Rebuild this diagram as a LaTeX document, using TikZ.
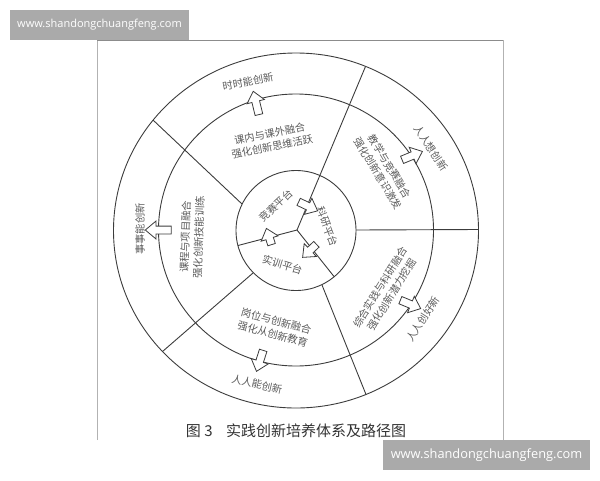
\documentclass[tikz,border=0pt]{standalone}
\usepackage{fontspec}
\setmainfont{Noto Sans CJK SC}
\newfontfamily\wmfont{Open Sans}
\usetikzlibrary{shapes.arrows}
\definecolor{linegray}{HTML}{3C3C3C}
\definecolor{textgray}{HTML}{5A5A5A}
\definecolor{markgray}{HTML}{AAAAAA}

\begin{document}
\begin{tikzpicture}[x=1pt, y=-1pt,
    ring/.style={draw=linegray, line width=0.9pt},
    lab/.style={text=textgray, inner sep=0pt, align=center, font=\fontsize{10.3}{13.5}\selectfont},
    flow/.style={single arrow, draw=linegray, fill=white, line width=0.8pt, inner sep=3.5pt,
                 single arrow head extend=5pt, single arrow tip angle=80, anchor=tail},
    wmbox/.style={fill=markgray, text=white, inner sep=0pt}]
                    \useasboundingbox (0,0) rectangle (600,480);

                    % frame of the figure
                    \draw[gray!60] (97,440) -- (97,40);
                    \draw[gray!90] (97,40) -- (503,40);
                    \draw[gray!60] (503,40) -- (503,440);

                    % rings
                    \draw[ring] (296,230.5) ellipse [x radius=182.5, y radius=177.5];
                    \draw[ring] (296,230) ellipse [x radius=137.5, y radius=136];
                    \draw[ring] (296,230.5) circle [radius=60];

                    \coordinate (c0) at (297,230);
                    \coordinate (r1) at (365.5,66.5);
                    \coordinate (r2) at (356,230);
                    \coordinate (r3) at (478.5,229.5);
                    \coordinate (r4) at (334,276.5);
                    \coordinate (r5) at (322,285);
                    \coordinate (r6) at (366,394.5);
                    \coordinate (r7) at (238,245.5);
                    \coordinate (r8) at (253,273);
                    \coordinate (r9) at (162.5,351.5);
                    \coordinate (r10) at (153,120);
                    \coordinate (r11) at (242,204);

                    \draw[ring] (c0) -- (r1);
                    \draw[ring] (r2) -- (r3);
                    \draw[ring] (c0) -- (r4);
                    \draw[ring] (r5) -- (r6);
                    \draw[ring] (c0) -- (r7);
                    \draw[ring] (r8) -- (r9);
                    \draw[ring] (r10) -- (r11);

                    % outer ring
                    \node (o1) at (248,82) [lab, rotate=11] {时时能创新};
                    \node (o2) at (431,148) [lab, rotate=-56] {人人想创新};
                    \node (o3) at (423,319) [lab, rotate=57] {人人创好新};
                    \node (o4) at (257,384) [lab, rotate=-13] {人人能创新};
                    \node (o5) at (140,229) [lab, rotate=90] {事事能创新};

                    % middle ring
                    \node (m1) at (271,140) [lab, rotate=11] {课内与课外融合\\强化创新思维活跃};
                    \node (m2) at (384,170) [lab, rotate=-59] {教学与竞赛融合\\强化创新意识激发};
                    \node (m3) at (386,291) [lab, rotate=58] {综合实践与科研融合\\强化创新潜力挖掘};
                    \node (m4) at (274.5,327.5) [lab, rotate=-15] {岗位与创新融合\\强化从创新教育};
                    \node (m5) at (192,237) [lab, rotate=88] {课程与项目融合\\强化创新技能训练};

                    % platforms
                    \node (p1) at (276,206) [lab, rotate=43] {竞赛平台};
                    \node (p2) at (327.5,226.7) [lab, rotate=-69] {科研平台};
                    \node (p3) at (282.5,265) [lab, rotate=-17] {实训平台};

                    % block arrows
                    \node (a1) at (259,115) [flow, minimum height=24pt, rotate=103.7] {};
                    \node (a2) at (401.7,160) [flow, minimum height=22pt, rotate=22.5] {};
                    \node (a3) at (400,300) [flow, minimum height=22pt, rotate=-22.5] {};
                    \node (a4) at (263.3,350) [flow, minimum height=22pt, rotate=-107.7] {};
                    \node (a5) at (171.7,230) [flow, minimum height=26pt, rotate=180] {};
                    \node (a6) at (298.3,201.7) [flow, minimum height=21pt, rotate=-25.3] {};
                    \node (a7) at (316.7,244) [flow, minimum height=19pt, rotate=-136.5] {};
                    \node (a8) at (271.7,245) [flow, minimum height=17pt, rotate=107.7] {};

                    % caption
                    \node (cap) at (296,431) [text=black!80, inner sep=0pt, font=\fontsize{15}{18}\selectfont] {图 3\hspace{0.9em}实践创新培养体系及路径图};

                    % site marks
                    \node (w1) at (99.5,25) [wmbox, minimum width=179pt, minimum height=30pt, font=\wmfont\fontsize{11}{13}\selectfont] {www.shandongchuangfeng.com};
                    \node (w2) at (486.5,455) [wmbox, minimum width=207pt, minimum height=30pt, font=\wmfont\fontsize{12.8}{15}\selectfont] {www.shandongchuangfeng.com};
                \end{tikzpicture}
\end{document}
